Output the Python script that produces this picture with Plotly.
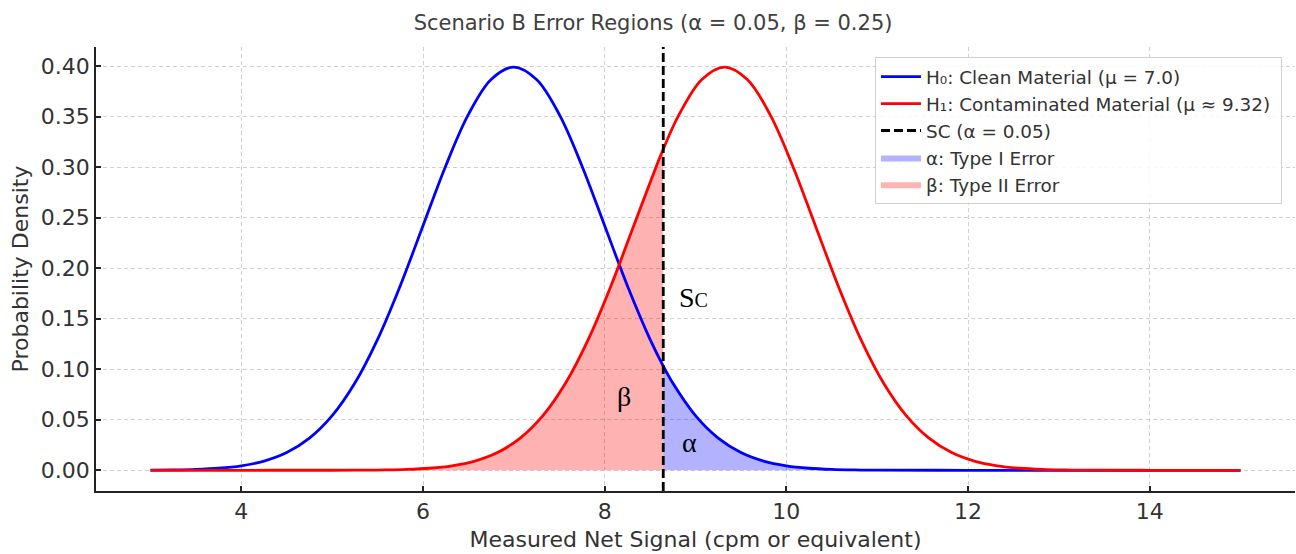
import plotly.graph_objects as go

# ---- data (densities) ----
SC = 8.645
h0_x = [3.0, 3.25, 3.5, 3.75, 4.0, 4.25, 4.5, 4.75, 5.0, 5.25, 5.5, 5.75, 6.0, 6.25,
        6.5, 6.75, 7.0, 7.25, 7.5, 7.75, 8.0, 8.25, 8.5, 8.645, 8.75, 9.0, 9.25, 9.5,
        9.75, 10.0, 10.25, 10.5, 10.75, 11.0, 12.0, 13.0, 14.0, 15.0]
h0_y = [0.00013, 0.00035, 0.00087, 0.00203, 0.00443, 0.00909, 0.01753, 0.03174,
        0.05399, 0.08628, 0.12952, 0.18265, 0.24197, 0.30114, 0.35207, 0.38667,
        0.39894, 0.38667, 0.35207, 0.30114, 0.24197, 0.18265, 0.12952, 0.10310,
        0.08628, 0.05399, 0.03174, 0.01753, 0.00909, 0.00443, 0.00203, 0.00087,
        0.00035, 0.00013, 0.0, 0.0, 0.0, 0.0]
h1_x = [3.0, 4.0, 5.0, 5.32, 5.57, 5.82, 6.07, 6.32, 6.57, 6.82, 7.07, 7.32, 7.57,
        7.82, 8.07, 8.32, 8.57, 8.645, 8.82, 9.07, 9.32, 9.57, 9.82, 10.07, 10.32,
        10.57, 10.82, 11.07, 11.32, 11.57, 11.82, 12.07, 12.32, 12.57, 12.82, 13.07,
        13.32, 14.0, 15.0]
h1_y = [0.0, 0.0, 0.00004, 0.00013, 0.00035, 0.00087, 0.00203, 0.00443, 0.00909,
        0.01753, 0.03174, 0.05399, 0.08628, 0.12952, 0.18265, 0.24197, 0.30114,
        0.31768, 0.35207, 0.38667, 0.39894, 0.38667, 0.35207, 0.30114, 0.24197,
        0.18265, 0.12952, 0.08628, 0.05399, 0.03174, 0.01753, 0.00909, 0.00443,
        0.00203, 0.00087, 0.00035, 0.00013, 0.0, 0.0]
x_ticks = [4, 6, 8, 10, 12, 14]
y_ticks = [0.00, 0.05, 0.10, 0.15, 0.20, 0.25, 0.30, 0.35, 0.40]
legend_names = ["H₀: Clean Material (μ = 7.0)",
                "H₁: Contaminated Material (μ ≈ 9.32)",
                "SC (α = 0.05)",
                "α: Type I Error",
                "β: Type II Error"]

alpha_x = [x for x in h0_x if x >= SC]
alpha_y = [y for x, y in zip(h0_x, h0_y) if x >= SC]
beta_x = [x for x in h1_x if x <= SC]
beta_y = [y for x, y in zip(h1_x, h1_y) if x <= SC]

FONT = "DejaVu Sans"
TXT = "#333333"
LW = 2.8
PAD = " "

fig = go.Figure()
fig.add_trace(go.Scatter(x=alpha_x, y=alpha_y, mode="lines", fill="tozeroy",
                         line=dict(width=0, shape="spline", color="rgba(0,0,255,0.3)"),
                         fillcolor="rgba(0,0,255,0.3)", name=legend_names[3] + PAD,
                         legendrank=4))
fig.add_trace(go.Scatter(x=beta_x, y=beta_y, mode="lines", fill="tozeroy",
                         line=dict(width=0, shape="spline", color="rgba(255,0,0,0.3)"),
                         fillcolor="rgba(255,0,0,0.3)", name=legend_names[4] + PAD,
                         legendrank=5))
fig.add_trace(go.Scatter(x=h0_x, y=h0_y, mode="lines",
                         line=dict(color="#0000ff", width=LW, shape="spline"),
                         name=legend_names[0] + PAD, legendrank=1))
fig.add_trace(go.Scatter(x=h1_x, y=h1_y, mode="lines",
                         line=dict(color="#ff0000", width=LW, shape="spline"),
                         name=legend_names[1] + PAD, legendrank=2))
fig.add_trace(go.Scatter(x=[None], y=[None], mode="lines",
                         line=dict(color="black", width=LW, dash="9px,4px"),
                         name=legend_names[2] + PAD, legendrank=3))

fig.add_shape(type="line", x0=SC, x1=SC, xref="x", yref="paper", y0=0, y1=1,
              line=dict(color="black", width=LW, dash="9px,4px"))

serif = dict(family="Liberation Serif", size=28, color="black")
fig.add_annotation(x=8.98, y=0.171, text="S<span style='font-size:20px'>C</span>",
                   showarrow=False, font=serif)
fig.add_annotation(x=8.21, y=0.073, text="β", showarrow=False, font=serif)
fig.add_annotation(x=8.93, y=0.027, text="α", showarrow=False, font=serif)

fig.update_layout(
    width=1296, height=554,
    margin=dict(l=96, r=1, t=47, b=63, autoexpand=False),
    paper_bgcolor="white", plot_bgcolor="white",
    font=dict(family=FONT, color=TXT),
    title=dict(text="Scenario B Error Regions (α = 0.05, β = 0.25)",
               x=0.4646, xref="paper", xanchor="center",
               y=1 - 23 / 554, yref="container", yanchor="middle",
               font=dict(size=21, color="#404040", family=FONT)),
    legend=dict(x=0.6497, y=0.977, xanchor="left", yanchor="top",
                bgcolor="rgba(255,255,255,0.85)", bordercolor="#d0d0d0", borderwidth=1,
                font=dict(size=18.4, color=TXT, family=FONT), tracegroupgap=0,
                itemwidth=40),
    showlegend=True,
)
fig.update_xaxes(range=[2.4, 15.6], tickvals=x_ticks, ticktext=[str(v) for v in x_ticks],
                 showgrid=True, gridcolor="#d0d0d0", griddash="4px,3px", gridwidth=1,
                 showline=True, linecolor="#222222", linewidth=1.5, mirror=False,
                 ticks="inside", ticklen=5, tickwidth=1.5, tickcolor="#222222",
                 tickfont=dict(size=22, color=TXT), zeroline=False, automargin=False,
                 title=dict(text="Measured Net Signal (cpm or equivalent)",
                            font=dict(size=22, color=TXT), standoff=8))
fig.update_yaxes(range=[-0.0205, 0.4188], tickvals=y_ticks,
                 ticktext=[f"{v:.2f}" for v in y_ticks],
                 showgrid=True, gridcolor="#d0d0d0", griddash="4px,3px", gridwidth=1,
                 showline=True, linecolor="#222222", linewidth=1.5, mirror=False,
                 ticks="inside", ticklen=5, tickwidth=1.5, tickcolor="#222222",
                 tickfont=dict(size=22, color=TXT), zeroline=False, automargin=False,
                 title=dict(text="Probability Density", font=dict(size=22, color=TXT),
                            standoff=6))

fig.write_html("out.html", config={"responsive": False, "displayModeBar": False},
               post_script="document.body.style.margin='0';"
                           "document.body.style.overflow='hidden';")
